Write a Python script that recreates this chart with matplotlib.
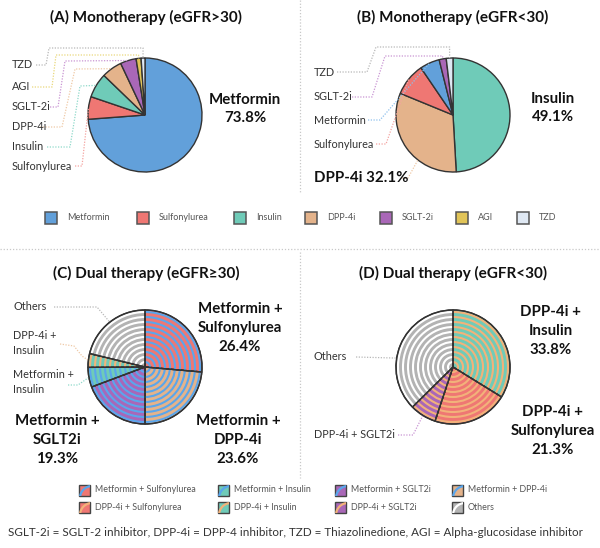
import numpy as np
import matplotlib
matplotlib.use("Agg")
import matplotlib.pyplot as plt
from matplotlib.patches import Circle, Rectangle, Wedge

plt.rcParams['font.family'] = ['Lato', 'DejaVu Sans']

W, H = 600, 548

# ---- data ----
mono_hi_labels = ['Metformin', 'Sulfonylurea', 'Insulin', 'DPP-4i', 'SGLT-2i', 'AGI', 'TZD']
mono_hi_values = [73.8, 6.4, 7.0, 5.8, 4.5, 1.4, 1.1]

mono_lo_labels = ['Insulin', 'DPP-4i', 'Sulfonylurea', 'Metformin', 'SGLT-2i', 'TZD']
mono_lo_values = [49.1, 32.1, 9.3, 5.6, 2.0, 1.9]

dual_hi_labels = ['Metformin + Sulfonylurea', 'Metformin + DPP-4i', 'Metformin + SGLT2i',
                  'Metformin + Insulin', 'DPP-4i + Insulin', 'Others']
dual_hi_values = [26.4, 23.6, 19.3, 5.6, 3.9, 21.2]

dual_lo_labels = ['DPP-4i + Insulin', 'DPP-4i + Sulfonylurea', 'DPP-4i + SGLT2i', 'Others']
dual_lo_values = [33.8, 21.3, 7.5, 37.4]

drug_colors = {
    'Metformin': '#62a0da',
    'Sulfonylurea': '#ef7773',
    'Insulin': '#6fcbb8',
    'DPP-4i': '#e4b38b',
    'SGLT-2i': '#a967b7',
    'AGI': '#e1c458',
    'TZD': '#dfe8f3',
}
ring_colors = {'Metformin': '#5aa6ec', 'DPP-4i': '#f2b27a'}
others_color = '#b3b3b3'
leader_colors = {
    'Metformin': '#8ec0ec', 'Sulfonylurea': '#f4a3a0', 'Insulin': '#8fd9ca',
    'DPP-4i': '#efc9a6', 'SGLT-2i': '#c995d3', 'AGI': '#e9d87c', 'TZD': '#b8b8b8',
    'Others': '#b8b8b8',
}

legend1_labels = ['Metformin', 'Sulfonylurea', 'Insulin', 'DPP-4i', 'SGLT-2i', 'AGI', 'TZD']
legend2_labels = ['Metformin + Sulfonylurea', 'Metformin + Insulin', 'Metformin + SGLT2i', 'Metformin + DPP-4i',
                  'DPP-4i + Sulfonylurea', 'DPP-4i + Insulin', 'DPP-4i + SGLT2i', 'Others']

footnote = ('SGLT-2i = SGLT-2 inhibitor, DPP-4i = DPP-4 inhibitor, '
            'TZD = Thiazolinedione, AGI = Alpha-glucosidase inhibitor')


def Y(y):
    # pixel-from-top -> data y
    return H - y


def combo_style(name):
    """fill colour and ring colour of a dual therapy"""
    if name == 'Others':
        return others_color, 'white'
    a, b = [s.strip() for s in name.split('+')]
    if b == 'SGLT2i':
        b = 'SGLT-2i'
    return drug_colors[b], ring_colors[a]


fig = plt.figure(figsize=(W / 100, H / 100), dpi=100)
ax = fig.add_axes([0, 0, 1, 1])

R = 57
edge = dict(edgecolor='#333333', linewidth=1.0)


def draw_pie(values, colors, cx, cy):
    wedges, _ = ax.pie(values, colors=colors, startangle=90, counterclock=False,
                       center=(cx, Y(cy)), radius=R, wedgeprops=edge)
    return wedges


def add_rings(wedges, ring_cols, cx, cy, n=11):
    for w, rc in zip(wedges, ring_cols):
        for k in range(1, n + 1):
            c = Circle((cx, Y(cy)), R * k / (n + 0.4), fill=False, edgecolor=rc, linewidth=1.5,
                       zorder=w.get_zorder() + 0.1)
            ax.add_patch(c)
            c.set_clip_path(w)
        # edge back on top of the rings
        ax.add_patch(Wedge(w.center, w.r, w.theta1, w.theta2, fill=False,
                           zorder=w.get_zorder() + 0.2, **edge))


def edge_point(w, ang=None):
    if ang is None:
        ang = (w.theta1 + w.theta2) / 2
    a = np.radians(ang)
    return w.center[0] + w.r * np.cos(a), w.center[1] + w.r * np.sin(a)


def leader(pts, w, color, level=None, ang=None):
    tx, ty = edge_point(w, ang)
    xs = [p[0] for p in pts]
    ys = [Y(p[1]) for p in pts]
    if level is not None:
        xs += [tx, tx]
        ys += [Y(level), ty]
    else:
        xs += [tx]
        ys += [ty]
    ax.plot(xs, ys, linestyle=(0, (1, 1.2)), color=color, linewidth=0.9, zorder=1)


small = dict(fontsize=7.8, color='#333333')
big = dict(fontsize=10.8, fontweight='bold', color='#111111')
title = dict(fontsize=11, fontweight='bold', color='#111111', ha='center', va='center')
LS = 1.45

# ---- (A) ----
ax.text(146, Y(17), '(A) Monotherapy (eGFR>30)', **title)
wa = draw_pie(mono_hi_values, [drug_colors[k] for k in mono_hi_labels], 145, 115)
ax.text(245, Y(109), 'Metformin\n73.8%', ha='center', va='center', linespacing=LS, **big)
a_leaders = {
    'TZD': (65, [(36, 65), (46, 65), (49, 48)], 48),
    'AGI': (87, [(32, 87), (52, 87), (56, 55)], 55),
    'SGLT-2i': (107, [(50, 107), (58, 107), (65, 61)], None),
    'DPP-4i': (127, [(40, 127), (62, 127), (75, 69)], None),
    'Insulin': (147, [(47, 147), (70, 147), (80, 86)], None),
    'Sulfonylurea': (166, [(75, 166), (82, 166)], None),
}
for name, (ly, pts, lev) in a_leaders.items():
    ax.text(12, Y(ly), name, ha='left', va='center', **small)
    leader(pts, wa[mono_hi_labels.index(name)], leader_colors[name], lev)

# ---- (B) ----
ax.text(453, Y(17), '(B) Monotherapy (eGFR<30)', **title)
wb = draw_pie(mono_lo_values, [drug_colors[k] for k in mono_lo_labels], 453, 115)
ax.text(553, Y(108), 'Insulin\n49.1%', ha='center', va='center', linespacing=LS, **big)
ax.text(314, Y(178), 'DPP-4i 32.1%', ha='left', va='center', **big)
leader([(402, 178), (408, 178)], wb[1], leader_colors['DPP-4i'], None, ang=232)
b_leaders = {
    'TZD': (72, [(337, 72), (367, 72), (376, 47)], 47),
    'SGLT-2i': (97, [(352, 97), (372, 97), (385, 56)], 56),
    'Metformin': (120, [(368, 120), (380, 120)], None),
    'Sulfonylurea': (144, [(376, 144), (386, 144)], None),
}
for name, (ly, pts, lev) in b_leaders.items():
    ax.text(314, Y(ly), name, ha='left', va='center', **small)
    leader(pts, wb[mono_lo_labels.index(name)], leader_colors[name], lev)

# ---- legend 1 ----
leg1_x = [45, 137, 234, 305, 380, 456, 517]
for lab, x in zip(legend1_labels, leg1_x):
    ax.add_patch(Rectangle((x, Y(224)), 12, 12, facecolor=drug_colors[lab], edgecolor='#555555', linewidth=1.1))
    ax.text(x + 22, Y(218), lab, ha='left', va='center', fontsize=6.5, color='#555555')

# ---- (C) ----
ax.text(146, Y(273), '(C) Dual therapy (eGFR≥30)', **title)
fills, rings = zip(*[combo_style(k) for k in dual_hi_labels])
wc = draw_pie(dual_hi_values, fills, 145, 367)
add_rings(wc, rings, 145, 367)
ax.text(240, Y(328), 'Metformin +\nSulfonylurea\n26.4%', ha='center', va='center', linespacing=LS, **big)
ax.text(57, Y(440), 'Metformin +\nSGLT2i\n19.3%', ha='center', va='center', linespacing=LS, **big)
ax.text(238, Y(440), 'Metformin +\nDPP-4i\n23.6%', ha='center', va='center', linespacing=LS, **big)
ax.text(13, Y(307), 'Others', ha='left', va='center', **small)
leader([(54, 307), (97, 307)], wc[5], leader_colors['Others'])
ax.text(13, Y(343), 'DPP-4i +\nInsulin', ha='left', va='center', linespacing=1.35, **small)
leader([(60, 344), (74, 346), (82, 356)], wc[4], leader_colors['DPP-4i'])
ax.text(13, Y(382), 'Metformin +\nInsulin', ha='left', va='center', linespacing=1.35, **small)
leader([(68, 385), (78, 385)], wc[3], leader_colors['Insulin'])

# ---- (D) ----
ax.text(453, Y(273), '(D) Dual therapy (eGFR<30)', **title)
fills, rings = zip(*[combo_style(k) for k in dual_lo_labels])
wd = draw_pie(dual_lo_values, fills, 453, 367)
add_rings(wd, rings, 453, 367)
ax.text(551, Y(331), 'DPP-4i +\nInsulin\n33.8%', ha='center', va='center', linespacing=LS, **big)
ax.text(553, Y(431), 'DPP-4i +\nSulfonylurea\n21.3%', ha='center', va='center', linespacing=LS, **big)
ax.text(314, Y(356), 'Others', ha='left', va='center', **small)
leader([(356, 357)], wd[3], leader_colors['Others'], ang=171)
ax.text(314, Y(435), 'DPP-4i + SGLT2i', ha='left', va='center', **small)
leader([(398, 435), (413, 435)], wd[2], leader_colors['SGLT-2i'])

# ---- legend 2 ----
leg2_x = [79, 218, 335, 452]
leg2_y = [490, 507]
for i, lab in enumerate(legend2_labels):
    x = leg2_x[i % 4]
    y = leg2_y[i // 4]
    fc, rc = combo_style(lab)
    box = Rectangle((x, Y(y) - 5.5), 11, 11, facecolor=fc, edgecolor='#444444', linewidth=1.0)
    ax.add_patch(box)
    arc = Circle((x + 13, Y(y) - 8), 12, fill=False, edgecolor=rc, linewidth=1.6)
    ax.add_patch(arc)
    arc.set_clip_path(box)
    ax.text(x + 16, Y(y), lab, ha='left', va='center', fontsize=6.4, color='#555555')

# ---- separators ----
sep = dict(color='#c8c8c8', linestyle=(0, (1, 1.5)), linewidth=0.9)
ax.plot([300, 300], [Y(0), Y(192)], **sep)
ax.plot([0, W], [Y(249), Y(249)], **sep)
ax.plot([300, 300], [Y(252), Y(478)], **sep)

ax.text(8, Y(533), footnote, ha='left', va='center', fontsize=8.4, color='#333333')

ax.set_xlim(0, W)
ax.set_ylim(0, H)
ax.set_aspect('equal')
ax.axis('off')
fig.savefig('out.png', dpi=100)
